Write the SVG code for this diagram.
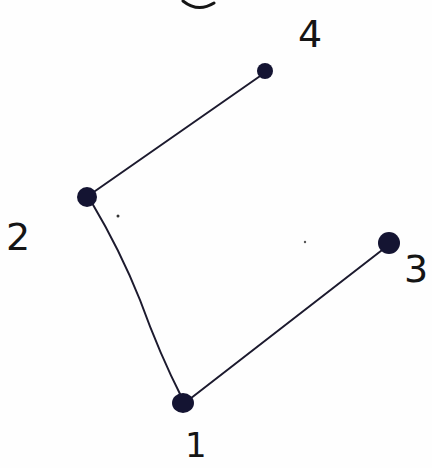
<svg xmlns="http://www.w3.org/2000/svg" width="432" height="468" viewBox="0 0 432 468">
<style>
.edge{fill:none;stroke:#1c1a2e;stroke-width:2;stroke-linecap:round}
.node{fill:#141432}
.lbl{font-family:"DejaVu Sans","Liberation Sans",sans-serif;font-size:38px;fill:#151515}
</style>
<rect width="432" height="468" fill="#fefefe"/>
<path d="M183,1 Q198,13 214,3" fill="none" stroke="#151515" stroke-width="3" stroke-linecap="round"/>
<g id="connectors">
<path class="edge" d="M263,74 L88,196"/>
<path class="edge" d="M92,203 Q120,250 140,300 Q160,355 182,398"/>
<path class="edge" d="M186,402 L386,247"/>
</g>
<g id="node-4"><circle class="node" cx="265" cy="71" r="8"/><text class="lbl" x="298" y="47">4</text></g>
<g id="node-2"><circle class="node" cx="87" cy="197" r="10"/><text class="lbl" x="6" y="250">2</text></g>
<g id="node-3"><circle class="node" cx="389" cy="243" r="11"/><text class="lbl" x="404" y="282">3</text></g>
<g id="node-1"><ellipse class="node" cx="183" cy="403" rx="11" ry="10"/><text class="lbl" x="185" y="457" style="font-size:34px">1</text></g>
<circle cx="118" cy="216" r="1.5" fill="#333"/>
<circle cx="305" cy="242" r="1.2" fill="#555"/>
</svg>
